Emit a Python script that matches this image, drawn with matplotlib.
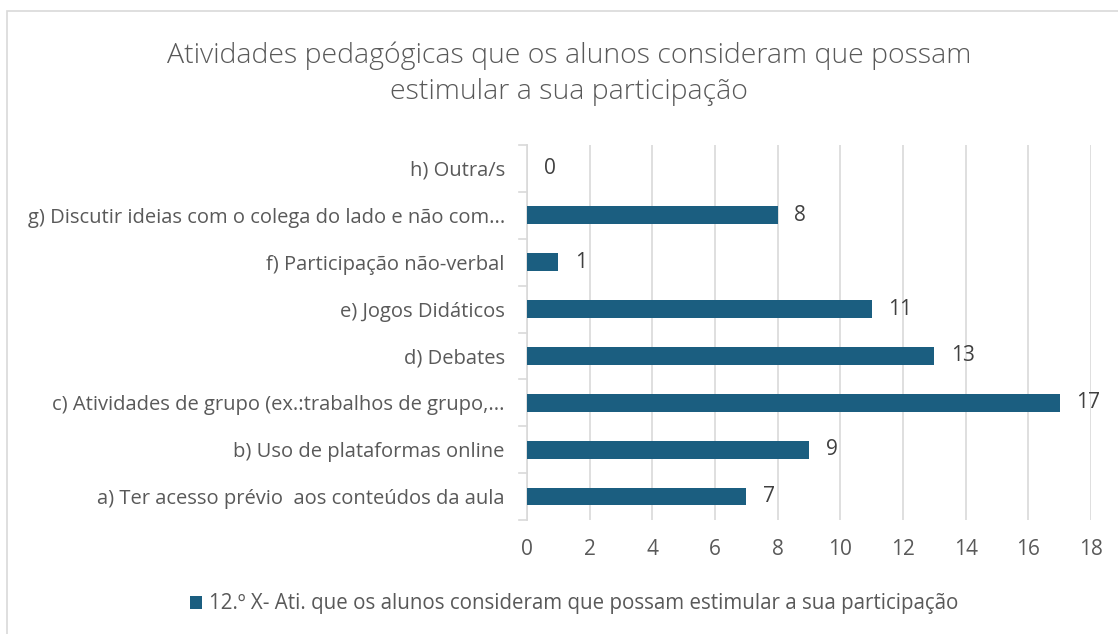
import matplotlib.pyplot as plt
from matplotlib.patches import Rectangle

plt.rcParams['font.family'] = ['Open Sans', 'DejaVu Sans']

categorias = [
    "a) Ter acesso prévio  aos conteúdos da aula",
    "b) Uso de plataformas online",
    "c) Atividades de grupo (ex.:trabalhos de grupo,...",
    "d) Debates",
    "e) Jogos Didáticos",
    "f) Participação não-verbal",
    "g) Discutir ideias com o colega do lado e não com...",
    "h) Outra/s",
]
valores = [7, 9, 17, 13, 11, 1, 8, 0]
ticks_x = [0, 2, 4, 6, 8, 10, 12, 14, 16, 18]
serie = "12.º X- Ati. que os alunos consideram que possam estimular a sua participação"
titulo = "Atividades pedagógicas que os alunos consideram que possam\nestimular a sua participação"

cor = "#1B5E80"
cinza_txt = "#595959"
fs = 14.5

fig = plt.figure(figsize=(11.18, 6.34), dpi=100)
ax = fig.add_axes([527 / 1118, 1 - 520 / 634, 564 / 1118, 375 / 634])

y = range(len(categorias))
barras = ax.barh(y, valores, height=0.38, color=cor, label=serie, zorder=3)
for b, v in zip(barras, valores):
    ax.annotate(str(v), (b.get_width(), b.get_y() + b.get_height() / 2),
                xytext=(12, 0), textcoords="offset points",
                va="center", ha="left", fontsize=15, color="#404040")

ax.set_xlim(0, 18)
ax.set_ylim(-0.5, len(categorias) - 0.5)
ax.set_xticks(ticks_x)
ax.set_yticks(list(y))
ax.set_yticklabels(categorias, fontsize=fs, color=cinza_txt)
ax.tick_params(axis="x", labelsize=15, colors=cinza_txt, length=0, pad=14)
ax.tick_params(axis="y", length=0, pad=16)
ax.grid(axis="x", color="#D9D9D9", lw=1.2, zorder=0)

for s in ["top", "right", "bottom"]:
    ax.spines[s].set_visible(False)
ax.spines["left"].set_color("#D9D9D9")
ax.spines["left"].set_linewidth(1.2)

# pequenos tracos nas fronteiras das categorias
for k in range(len(categorias) + 1):
    ax.plot([-0.25, 0], [k - 0.5, k - 0.5], color="#D9D9D9", lw=1.2,
            clip_on=False, zorder=1)

fig.text(569 / 1118, 1 - 74 / 634, titulo, ha="center", va="center",
         fontsize=20.5, color=cinza_txt, linespacing=1.4, fontweight="light")

leg = fig.legend(loc="center", bbox_to_anchor=(574 / 1118, 1 - 604 / 634),
                 frameon=False, fontsize=14.8, handlelength=0.6, handleheight=0.6,
                 handletextpad=0.3)
for t in leg.get_texts():
    t.set_color(cinza_txt)

fig.patches.append(Rectangle((7 / 1118, -0.1), 1.2, 1 - 11 / 634 + 0.1,
                             transform=fig.transFigure, fill=False,
                             edgecolor="#D9D9D9", lw=1.2))

fig.savefig("out.png", dpi=100)
